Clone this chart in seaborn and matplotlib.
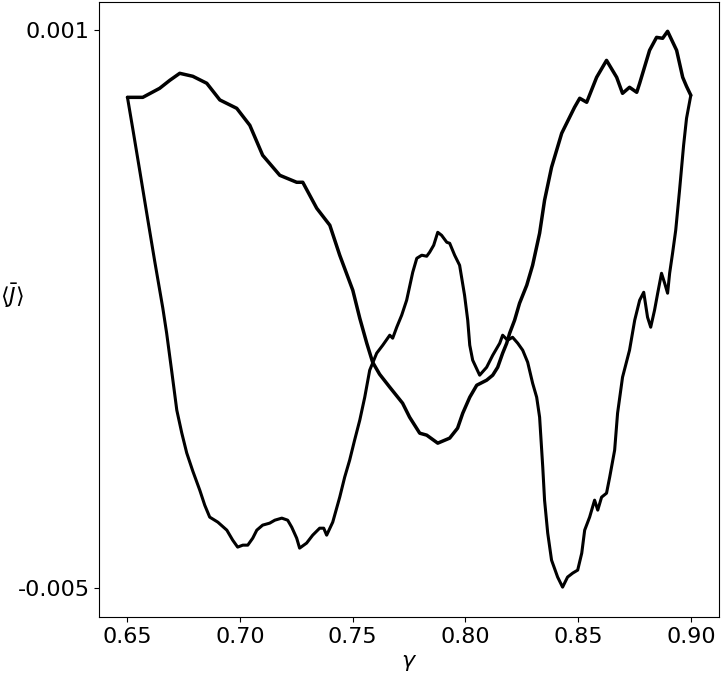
import numpy as np
import pandas as pd
import seaborn as sns
from matplotlib import pyplot as plt

# gamma values and mean current <J> (in units of 1e-3) for the two sweeps
gamma_upper = [0.6500, 0.6568, 0.6643, 0.6688, 0.6732, 0.6790, 0.6852, 0.6910, 0.6985, 0.7043,
               0.7100, 0.7176, 0.7251, 0.7278, 0.7340, 0.7398, 0.7442, 0.7500, 0.7531, 0.7562,
               0.7588, 0.7619, 0.7664, 0.7721, 0.7752, 0.7797, 0.7828, 0.7877, 0.7930, 0.7965,
               0.7988, 0.8019, 0.8050, 0.8094, 0.8121, 0.8143, 0.8165, 0.8183, 0.8196, 0.8218,
               0.8240, 0.8272, 0.8298, 0.8329, 0.8351, 0.8382, 0.8427, 0.8440, 0.8484, 0.8507,
               0.8538, 0.8582, 0.8626, 0.8671, 0.8697, 0.8728, 0.8760, 0.8773, 0.8817, 0.8848,
               0.8875, 0.8897, 0.8937, 0.8964, 0.8981, 0.9000]
j_upper = [0.273, 0.273, 0.370, 0.456, 0.531, 0.499, 0.424, 0.245, 0.155, -0.027,
           -0.349, -0.564, -0.639, -0.639, -0.918, -1.100, -1.422, -1.798, -2.099, -2.367,
           -2.571, -2.700, -2.839, -3.011, -3.161, -3.333, -3.354, -3.440, -3.386, -3.279,
           -3.118, -2.947, -2.818, -2.764, -2.710, -2.625, -2.474, -2.367, -2.260, -2.120,
           -1.938, -1.744, -1.530, -1.186, -0.832, -0.478, -0.113, -0.049, 0.166, 0.263,
           0.220, 0.488, 0.670, 0.488, 0.316, 0.381, 0.327, 0.424, 0.778, 0.917,
           0.907, 0.982, 0.778, 0.488, 0.391, 0.295]

gamma_lower = [0.6500, 0.6524, 0.6555, 0.6590, 0.6621, 0.6657, 0.6674, 0.6697, 0.6719, 0.6741,
               0.6763, 0.6790, 0.6821, 0.6843, 0.6865, 0.6901, 0.6941, 0.6967, 0.6989, 0.7012,
               0.7034, 0.7056, 0.7074, 0.7100, 0.7131, 0.7154, 0.7185, 0.7211, 0.7229, 0.7251,
               0.7264, 0.7295, 0.7322, 0.7353, 0.7371, 0.7384, 0.7411, 0.7442, 0.7464, 0.7486,
               0.7508, 0.7531, 0.7553, 0.7575, 0.7606, 0.7633, 0.7664, 0.7677, 0.7695, 0.7717,
               0.7739, 0.7766, 0.7784, 0.7806, 0.7828, 0.7841, 0.7859, 0.7877, 0.7894, 0.7917,
               0.7930, 0.7952, 0.7974, 0.7996, 0.8010, 0.8019, 0.8032, 0.8063, 0.8094, 0.8121,
               0.8152, 0.8165, 0.8187, 0.8209, 0.8232, 0.8254, 0.8276, 0.8298, 0.8316, 0.8329,
               0.8343, 0.8351, 0.8365, 0.8382, 0.8409, 0.8431, 0.8453, 0.8476, 0.8498, 0.8516,
               0.8529, 0.8551, 0.8573, 0.8587, 0.8604, 0.8626, 0.8640, 0.8662, 0.8675, 0.8697,
               0.8728, 0.8751, 0.8773, 0.8791, 0.8808, 0.8822, 0.8839, 0.8853, 0.8870, 0.8884,
               0.8897, 0.8906, 0.8919, 0.8933, 0.8950, 0.8968, 0.8981, 0.9000]
j_lower = [0.273, -0.070, -0.521, -1.036, -1.487, -1.991, -2.260, -2.678, -3.086, -3.330,
           -3.545, -3.740, -3.945, -4.106, -4.234, -4.288, -4.374, -4.481, -4.556, -4.535,
           -4.535, -4.460, -4.374, -4.320, -4.299, -4.267, -4.245, -4.267, -4.342, -4.460,
           -4.567, -4.513, -4.428, -4.353, -4.353, -4.428, -4.288, -4.020, -3.805, -3.623,
           -3.408, -3.193, -2.947, -2.657, -2.474, -2.388, -2.281, -2.313, -2.195, -2.066,
           -1.905, -1.605, -1.455, -1.422, -1.433, -1.390, -1.315, -1.176, -1.208, -1.283,
           -1.294, -1.422, -1.530, -1.852, -2.120, -2.388, -2.549, -2.710, -2.625, -2.496,
           -2.367, -2.281, -2.335, -2.303, -2.367, -2.442, -2.571, -2.796, -2.947, -3.161,
           -3.698, -4.052, -4.406, -4.696, -4.878, -4.986, -4.878, -4.835, -4.803, -4.621,
           -4.374, -4.234, -4.052, -4.159, -4.020, -3.977, -3.805, -3.515, -3.118, -2.732,
           -2.442, -2.120, -1.905, -1.820, -2.088, -2.195, -2.013, -1.830, -1.616, -1.723,
           -1.830, -1.616, -1.401, -1.154, -0.725, -0.242, 0.048, 0.295]

ytick_vals = [0.001, -0.005]
ytick_labels = ['0.001', '-0.005']
xtick_vals = [0.65, 0.70, 0.75, 0.80, 0.85, 0.90]

sns.set_style('ticks', {'axes.edgecolor': 'black', 'xtick.color': 'black',
                        'ytick.color': 'black', 'text.color': 'black',
                        'axes.labelcolor': 'black'})
plt.rcParams['font.family'] = ['DejaVu Sans']
plt.rcParams['font.size'] = 16

upper = pd.DataFrame({'gamma': gamma_upper, 'J': np.array(j_upper) * 1e-3})
lower = pd.DataFrame({'gamma': gamma_lower, 'J': np.array(j_lower) * 1e-3})

fig = plt.figure(figsize=(7.21, 6.76), dpi=100)
ax = fig.add_axes([0.1377, 0.0868, 0.8595, 0.9107])

# upper sweep is drawn heavier, the lower one (steeper, sparser points) a bit lighter
sns.lineplot(data=upper, x='gamma', y='J', color='black', linewidth=2.5,
             estimator=None, sort=False, ax=ax)
sns.lineplot(data=lower, x='gamma', y='J', color='black', linewidth=2.2,
             estimator=None, sort=False, ax=ax)

ax.set_xlim(0.6375, 0.9125)
ax.set_ylim(-0.00531, 0.0013)
ax.set_xticks(xtick_vals, labels=[f'{v:.2f}' for v in xtick_vals])
ax.set_yticks(ytick_vals, labels=ytick_labels)
ax.tick_params(labelsize=16, width=0.8, length=3.5)
for s in ax.spines.values():
    s.set_linewidth(0.8)

ax.set_xlabel(r'$\gamma$', fontsize=16)
ax.set_ylabel(r'$\langle \bar{J} \rangle$', fontsize=16, rotation=0)
ax.yaxis.set_label_coords(-0.141, 0.5)

fig.savefig('out.png', dpi=100)
